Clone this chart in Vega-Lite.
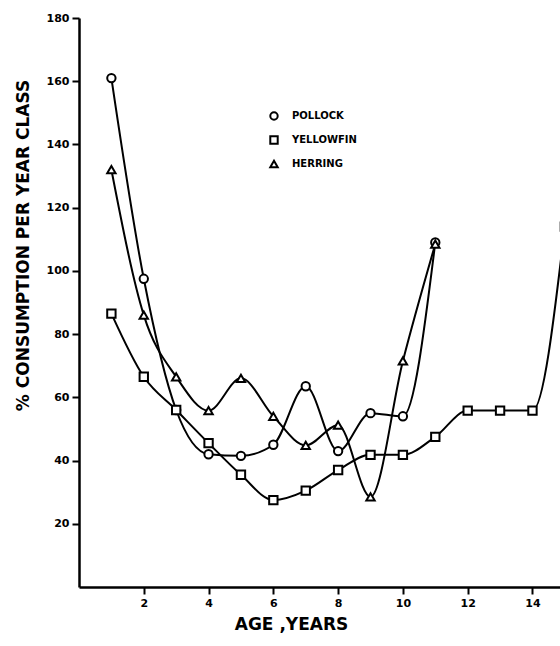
{
  "$schema": "https://vega.github.io/schema/vega-lite/v6.json",
  "autosize": "none",
  "width": 481,
  "height": 569,
  "padding": {"left": 79, "top": 18, "right": 0, "bottom": 59},
  "background": "white",
  "config": {
    "view": {"stroke": null},
    "font": "DejaVu Sans",
    "axis": {
      "domainColor": "black", "domainWidth": 2.5, "tickColor": "black", "tickWidth": 2,
      "tickSize": 7, "labelFontWeight": "bold", "labelFontSize": 11, "labelColor": "black",
      "titleFontWeight": "bold", "titleFontSize": 17, "titleColor": "black", "grid": false, "labelPadding": 3
    }
  },
  "data": {"values": [
    {"age": 1, "value": 161, "species": "POLLOCK"},
    {"age": 2, "value": 97.5, "species": "POLLOCK"},
    {"age": 3, "value": 56, "species": "POLLOCK"},
    {"age": 4, "value": 42, "species": "POLLOCK"},
    {"age": 5, "value": 41.5, "species": "POLLOCK"},
    {"age": 6, "value": 45, "species": "POLLOCK"},
    {"age": 7, "value": 63.5, "species": "POLLOCK"},
    {"age": 8, "value": 43, "species": "POLLOCK"},
    {"age": 9, "value": 55, "species": "POLLOCK"},
    {"age": 10, "value": 54, "species": "POLLOCK"},
    {"age": 11, "value": 109, "species": "POLLOCK"},
    {"age": 1, "value": 86.5, "species": "YELLOWFIN"},
    {"age": 2, "value": 66.5, "species": "YELLOWFIN"},
    {"age": 3, "value": 56, "species": "YELLOWFIN"},
    {"age": 4, "value": 45.5, "species": "YELLOWFIN"},
    {"age": 5, "value": 35.5, "species": "YELLOWFIN"},
    {"age": 6, "value": 27.5, "species": "YELLOWFIN"},
    {"age": 7, "value": 30.5, "species": "YELLOWFIN"},
    {"age": 8, "value": 37, "species": "YELLOWFIN"},
    {"age": 9, "value": 41.8, "species": "YELLOWFIN"},
    {"age": 10, "value": 41.8, "species": "YELLOWFIN"},
    {"age": 11, "value": 47.5, "species": "YELLOWFIN"},
    {"age": 12, "value": 55.8, "species": "YELLOWFIN"},
    {"age": 13, "value": 55.8, "species": "YELLOWFIN"},
    {"age": 14, "value": 55.8, "species": "YELLOWFIN"},
    {"age": 15, "value": 114, "species": "YELLOWFIN"},
    {"age": 1, "value": 132, "species": "HERRING"},
    {"age": 2, "value": 86, "species": "HERRING"},
    {"age": 3, "value": 66.5, "species": "HERRING"},
    {"age": 4, "value": 55.8, "species": "HERRING"},
    {"age": 5, "value": 66, "species": "HERRING"},
    {"age": 6, "value": 54, "species": "HERRING"},
    {"age": 7, "value": 44.8, "species": "HERRING"},
    {"age": 8, "value": 51.2, "species": "HERRING"},
    {"age": 9, "value": 28.5, "species": "HERRING"},
    {"age": 10, "value": 71.5, "species": "HERRING"},
    {"age": 11, "value": 108.5, "species": "HERRING"}
  ]},
  "encoding": {
    "x": {"field": "age", "type": "quantitative",
      "scale": {"domain": [0, 14.85], "nice": false, "zero": false},
      "axis": {"values": [2, 4, 6, 8, 10, 12, 14], "title": "AGE ,YEARS", "titleX": 212, "titlePadding": 8}},
    "y": {"field": "value", "type": "quantitative",
      "scale": {"domain": [0, 180], "nice": false},
      "axis": {"values": [20, 40, 60, 80, 100, 120, 140, 160, 180], "title": "% CONSUMPTION PER YEAR CLASS", "titleY": 227, "titlePadding": 14}}
  },
  "layer": [
    {
      "mark": {"type": "line", "interpolate": "monotone", "color": "black", "strokeWidth": 2},
      "encoding": {"detail": {"field": "species"}}
    },
    {
      "mark": {"type": "point", "filled": false, "color": "black", "fill": "white", "strokeWidth": 2, "size": 70, "opacity": 1},
      "encoding": {
        "shape": {"field": "species", "type": "nominal",
          "scale": {"domain": ["POLLOCK", "YELLOWFIN", "HERRING"], "range": ["circle", "square", "triangle-up"]},
          "legend": {"title": null, "orient": "none", "legendX": 190, "legendY": 93,
            "labelFontSize": 10, "labelFontWeight": "bold", "labelColor": "black",
            "symbolStrokeWidth": 2, "symbolSize": 55, "symbolOpacity": 1, "labelOffset": 13,
            "rowPadding": 8}}
      }
    }
  ]
}
